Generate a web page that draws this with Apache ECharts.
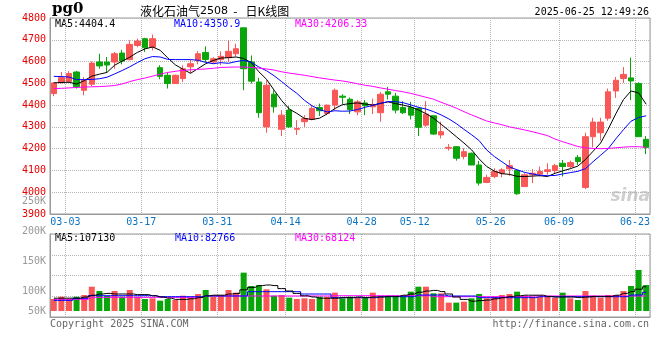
<!DOCTYPE html>
<html><head><meta charset="utf-8">
<script src="https://cdn.jsdelivr.net/npm/echarts@6/dist/echarts.min.js"></script>
<style>html,body{margin:0;padding:0;background:#fff}#c{width:660px;height:360px}</style>
</head><body><div id="c"></div>
<script>
const dates = ['02-28',
'03-03','03-04','03-05','03-06','03-07','03-10','03-11','03-12','03-13','03-14','03-17','03-18','03-19','03-20','03-21','03-24','03-25','03-26','03-27','03-28','03-31',
'04-01','04-02','04-03','04-07','04-08','04-09','04-10','04-11','04-14','04-15','04-16','04-17','04-18','04-21','04-22','04-23','04-24','04-25','04-28','04-29','04-30',
'05-06','05-07','05-08','05-09','05-12','05-13','05-14','05-15','05-16','05-19','05-20','05-21','05-22','05-23','05-26','05-27','05-28','05-29','05-30',
'06-03','06-04','06-05','06-06','06-09','06-10','06-11','06-12','06-13','06-16','06-17','06-18','06-19','06-20','06-23','06-24','06-25'];
const tickLabels = ['03-03','03-17','03-31','04-14','04-28','05-12','05-26','06-09','06-23'];

const open  = [4453,4503,4508,4552,4468,4496,4598,4598,4598,4639,4609,4674,4705,4666,4572,4537,4499,4522,4576,4605,4642,4598,
4609,4618,4636,4755,4598,4506,4300,4450,4289,4377,4289,4324,4334,4389,4362,4400,4441,4427,4369,4410,4392,4365,4461,4441,4389,4389,4385,4308,4351,
4263,4202,4209,4164,4179,4125,4045,4072,4087,4107,4100,4026,4080,4083,4095,4099,4133,4118,4160,4022,4255,4273,4340,4465,4522,4525,4499,4243];
const close = [4502,4526,4545,4484,4514,4593,4580,4584,4636,4602,4679,4694,4663,4705,4532,4499,4537,4567,4590,4636,4610,4613,
4624,4647,4659,4567,4510,4365,4491,4392,4354,4300,4293,4338,4385,4374,4400,4468,4436,4380,4415,4397,4403,4450,4450,4377,4365,4354,4298,4359,4267,
4278,4206,4156,4186,4125,4042,4068,4095,4103,4122,3993,4080,4087,4095,4103,4122,4118,4136,4141,4255,4322,4322,4461,4514,4541,4511,4255,4206];
const low   = [4441,4500,4505,4476,4445,4487,4567,4552,4567,4587,4605,4666,4644,4651,4519,4476,4497,4506,4547,4587,4598,4590,
4583,4598,4624,4468,4499,4342,4273,4365,4258,4295,4263,4300,4330,4350,4354,4377,4404,4359,4354,4354,4359,4324,4426,4362,4359,4334,4258,4300,4263,
4247,4191,4145,4151,4125,4031,4042,4064,4069,4075,3988,4026,4042,4072,4080,4087,4072,4110,4125,4014,4206,4237,4328,4433,4502,4423,4255,4175];
const high  = [4506,4552,4556,4557,4529,4600,4636,4621,4644,4654,4697,4705,4709,4724,4583,4549,4540,4583,4609,4648,4670,4620,
4647,4697,4682,4755,4628,4526,4514,4468,4377,4395,4331,4354,4395,4407,4402,4476,4450,4435,4423,4423,4430,4461,4484,4456,4418,4415,4392,4418,4354,
4324,4221,4212,4202,4182,4144,4080,4110,4110,4148,4106,4087,4106,4118,4133,4130,4148,4145,4171,4273,4342,4342,4476,4529,4575,4618,4505,4258];

const volume = [86700,90500,86700,90500,93300,107200,100000,91700,100000,90500,101700,90500,86700,87800,83900,86700,85000,92200,89400,95000,101700,90500,
91700,101700,97200,130600,108300,110000,102800,92200,93300,88900,86700,87800,86700,90500,90000,97200,87800,90500,88900,88900,97200,91700,90500,91700,91700,98900,107200,107200,96100,
96100,80600,80600,82200,87800,95000,87800,90500,93300,95000,98900,92200,90500,90500,90500,88900,97200,87800,85000,100000,92200,88900,93300,93300,100000,108300,135000,110000];

const ma5  = [4502,4504,4505,4497,4512,4533,4542,4550,4583,4602,4620,4642,4658,4667,4652,4617,4585,4565,4546,4568,4590,4605,
4616,4618,4621,4614,4595,4553,4519,4469,4421,4382,4362,4339,4334,4340,4360,4384,4402,4407,4410,4405,4400,4408,4415,4407,4400,4392,4378,4361,4340,
4312,4284,4255,4226,4195,4153,4118,4097,4085,4082,4073,4072,4074,4076,4072,4087,4098,4108,4120,4150,4188,4226,4290,4360,4425,4465,4456,4404];
const ma10 = [4532,4531,4529,4517,4517,4518,4521,4528,4543,4559,4576,4595,4613,4623,4621,4610,4609,4609,4609,4606,4596,4590,
4595,4592,4600,4605,4597,4575,4558,4535,4508,4480,4454,4422,4397,4379,4369,4374,4372,4373,4380,4390,4399,4408,4416,4416,4411,4401,4390,4382,4370,
4355,4337,4315,4289,4264,4237,4194,4164,4140,4116,4103,4091,4084,4078,4076,4077,4084,4090,4096,4108,4140,4170,4200,4245,4287,4326,4343,4351];
const ma30 = [4476,4477,4479,4481,4483,4484,4485,4487,4490,4497,4508,4517,4524,4533,4542,4550,4555,4560,4562,4564,4566,4569,
4573,4574,4575,4575,4573,4570,4566,4561,4553,4547,4542,4537,4531,4525,4520,4515,4511,4505,4498,4491,4486,4479,4473,4467,4461,4454,4445,4436,4427,
4413,4400,4386,4370,4355,4341,4327,4318,4310,4300,4293,4286,4278,4269,4260,4244,4232,4221,4210,4204,4201,4200,4201,4204,4207,4209,4209,4206];

const volMa5 = [88000,88000,88000,88000,90000,93000,95000,96000,95000,95000,95000,94000,94000,92000,90000,88000,86000,86000,87000,89000,92000,93000,
93000,95000,96000,102000,106000,109000,110000,109000,104000,100000,96000,92000,90000,88000,88000,88000,89000,89000,90000,89000,90000,90000,91000,91000,93000,95000,98000,100000,101000,
99000,95000,90000,86000,83000,84000,85000,87000,89000,91000,92000,93000,93000,93000,91000,90000,90000,90000,89000,90000,91000,91000,91000,93000,96000,99000,103000,107000];
const volMa10 = [84400,84400,84400,87800,87800,92200,92200,92200,92200,92200,92200,92200,92200,92200,90500,90500,90500,90500,90500,90500,91700,91700,
91700,91700,91700,91700,98900,98900,98900,98900,98900,98900,98900,95000,95000,95000,95000,88900,88900,88900,88900,88900,88900,90500,90500,90500,90500,90500,93300,93300,93300,
93300,91700,91700,91700,91700,88900,88900,88900,88900,88900,88900,88900,88900,90500,90500,90500,90500,90500,90500,90500,90500,90500,90500,90500,90500,93300,93300,97800];
const volMa30 = [86100,86100,86100,86100,86100,89400,89400,89400,89400,89400,89400,89400,89400,89400,89400,89400,89400,89400,89400,89400,91700,91700,
91700,91700,91700,91700,91700,91700,91700,91700,91700,91700,91700,91700,91700,91700,91700,92200,92200,92200,92200,92200,92200,92200,92200,92200,92200,92200,92200,92200,90500,
90500,90500,90500,90500,90500,90500,90500,90500,90500,90500,90500,90500,91700,91700,91700,91700,91700,91700,91700,91700,91700,91700,91700,91700,91700,91700,91700,91700];

const volTickLabels = ['50K','100K','150K','200K','250K'];
const volTickValues = [66667,100000,150000,200000,250000];

const RED = '#fa5757', GREEN = '#0aa50a';
const MONO = '"DejaVu Sans Mono", monospace';
const GRID_C = '#b4b4b4';

const candleData = open.map((o, i) => [o, close[i], low[i], high[i]]);
const volData = volume.map((v, i) => ({value: v, itemStyle: {color: close[i] >= open[i] ? RED : GREEN}}));
const tickIdx = new Set(tickLabels.map(t => dates.indexOf(t)));

const L = 50, W = 600;
const splitX = {show: true, interval: (i) => tickIdx.has(i - 1), lineStyle: {color: GRID_C, type: 'dotted'}};

const chart = echarts.init(document.getElementById('c'), null, {renderer: 'canvas'});
chart.setOption({
  animation: false,
  backgroundColor: '#fff',
  grid: [
    {left: L, width: W, top: 18, height: 196, show: true, borderColor: '#999', borderWidth: 1},
    {left: L, width: W, top: 234, height: 77},
    {left: L, width: W, top: 234, height: 83, show: true, borderColor: '#999', borderWidth: 1},
    {left: L, width: W, top: 201, height: 120}
  ],
  xAxis: [
    {type: 'category', gridIndex: 0, data: dates, boundaryGap: true,
     axisLine: {lineStyle: {color: '#999'}}, axisTick: {show: false},
     axisLabel: {interval: (i) => tickIdx.has(i), color: '#0a74c4', fontFamily: MONO, fontSize: 10, margin: 3, padding: [0, 0, 0, 8]},
     splitLine: splitX},
    {type: 'category', gridIndex: 1, data: dates, boundaryGap: true, show: false},
    {type: 'category', gridIndex: 2, data: dates, boundaryGap: true,
     axisLine: {lineStyle: {color: '#999'}}, axisTick: {show: false}, axisLabel: {show: false}, splitLine: splitX},
    {type: 'category', gridIndex: 3, data: dates, boundaryGap: true, show: false}
  ],
  yAxis: [
    {type: 'value', gridIndex: 0, min: 3900, max: 4800, interval: 100,
     axisLine: {show: true, lineStyle: {color: '#999'}}, axisTick: {show: false},
     axisLabel: {color: '#e60000', fontFamily: MONO, fontSize: 10, margin: 4, formatter: (v) => String(v)},
     splitLine: {show: true, lineStyle: {color: GRID_C, type: 'dotted'}}},
    {type: 'value', gridIndex: 1, min: 66667, max: 195000, show: false, splitLine: {show: false}},
    {type: 'value', gridIndex: 2, min: 0, max: 4, interval: 1,
     axisLine: {show: true, lineStyle: {color: '#999'}}, axisTick: {show: false}, axisLabel: {show: false},
     splitLine: {show: true, lineStyle: {color: GRID_C, type: 'dotted'}}},
    {type: 'value', gridIndex: 3, min: 50000, max: 250000,
     axisLine: {show: false}, axisTick: {show: false}, splitLine: {show: false},
     axisLabel: {customValues: volTickValues, color: '#999', fontFamily: MONO, fontSize: 10, margin: 4,
       formatter: (v) => volTickLabels[volTickValues.indexOf(v)] || ''}}
  ],
  series: [
    {type: 'candlestick', xAxisIndex: 0, yAxisIndex: 0, data: candleData, barWidth: 6,
     itemStyle: {color: RED, color0: GREEN, borderColor: RED, borderColor0: GREEN, borderWidth: 1}},
    {type: 'line', xAxisIndex: 0, yAxisIndex: 0, data: ma5, symbol: 'none', lineStyle: {color: '#000', width: 1}},
    {type: 'line', xAxisIndex: 0, yAxisIndex: 0, data: ma10, symbol: 'none', lineStyle: {color: '#0000ff', width: 1}},
    {type: 'line', xAxisIndex: 0, yAxisIndex: 0, data: ma30, symbol: 'none', lineStyle: {color: '#ff00ff', width: 1}},
    {type: 'bar', xAxisIndex: 1, yAxisIndex: 1, data: volData, barWidth: 6, clip: true},
    {type: 'line', xAxisIndex: 1, yAxisIndex: 1, data: volMa30, step: 'middle', symbol: 'none', lineStyle: {color: '#ff00ff', width: 1}},
    {type: 'line', xAxisIndex: 1, yAxisIndex: 1, data: volMa10, step: 'middle', symbol: 'none', lineStyle: {color: '#0000ff', width: 1}},
    {type: 'line', xAxisIndex: 1, yAxisIndex: 1, data: volMa5, step: 'middle', symbol: 'none', lineStyle: {color: '#000', width: 1}}
  ],
  graphic: [
    {type: 'text', left: 52, top: 2, style: {text: 'pg0', font: 'bold 15px "DejaVu Serif", serif', fill: '#000'}},
    {type: 'text', x: 140, y: 11, style: {text: '{a|液化石油气}{b|2508}{a|  -   日K线图}', textVerticalAlign: 'middle',
      rich: {a: {fontFamily: '"Noto Sans CJK SC", sans-serif', fontSize: 12, color: '#000'},
             b: {fontFamily: '"DejaVu Sans", sans-serif', fontSize: 11, color: '#555'}}}},
    {type: 'text', x: 649, y: 12, style: {text: '2025-06-25 12:49:26', font: '10px "DejaVu Sans Mono", monospace', fill: '#000', textAlign: 'right', textVerticalAlign: 'middle'}},
    {type: 'text', x: 55, y: 24, style: {text: 'MA5:4404.4', font: '10px "DejaVu Sans Mono", monospace', fill: '#000', textVerticalAlign: 'middle'}},
    {type: 'text', x: 174, y: 24, style: {text: 'MA10:4350.9', font: '10px "DejaVu Sans Mono", monospace', fill: '#0000ff', textVerticalAlign: 'middle'}},
    {type: 'text', x: 295, y: 24, style: {text: 'MA30:4206.33', font: '10px "DejaVu Sans Mono", monospace', fill: '#ff00ff', textVerticalAlign: 'middle'}},
    {type: 'text', x: 55, y: 238, style: {text: 'MA5:107130', font: '10px "DejaVu Sans Mono", monospace', fill: '#000', textVerticalAlign: 'middle'}},
    {type: 'text', x: 175, y: 238, style: {text: 'MA10:82766', font: '10px "DejaVu Sans Mono", monospace', fill: '#0000ff', textVerticalAlign: 'middle'}},
    {type: 'text', x: 295, y: 238, style: {text: 'MA30:68124', font: '10px "DejaVu Sans Mono", monospace', fill: '#ff00ff', textVerticalAlign: 'middle'}},
    {type: 'text', x: 50, y: 324, style: {text: 'Copyright 2025 SINA.COM', font: '10px "DejaVu Sans Mono", monospace', fill: '#666', textVerticalAlign: 'middle'}},
    {type: 'text', x: 649, y: 324, style: {text: 'http://finance.sina.com.cn', font: '10px "DejaVu Sans Mono", monospace', fill: '#666', textAlign: 'right', textVerticalAlign: 'middle'}},
    {type: 'text', x: 650, y: 205, z: -1, style: {text: 'sina', font: 'italic bold 17px "DejaVu Sans", sans-serif', fill: '#cfcfcf', textAlign: 'right', textVerticalAlign: 'bottom'}}
  ]
});
</script></body></html>
